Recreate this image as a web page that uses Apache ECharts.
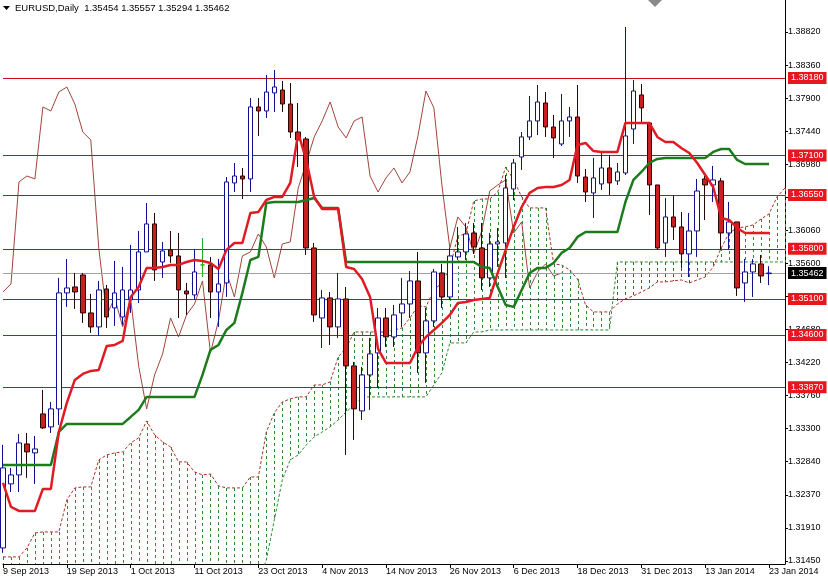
<!DOCTYPE html>
<html><head><meta charset="utf-8">
<script src="https://cdn.jsdelivr.net/npm/echarts@6/dist/echarts.min.js"></script>
<style>html,body{margin:0;padding:0;background:#fff}#c{width:828px;height:580px}</style>
</head><body><div id="c"></div>
<script>
const dates = ['9 Sep 2013','10 Sep 2013','11 Sep 2013','12 Sep 2013','13 Sep 2013','16 Sep 2013','17 Sep 2013','18 Sep 2013','19 Sep 2013','20 Sep 2013','23 Sep 2013','24 Sep 2013','25 Sep 2013','26 Sep 2013','27 Sep 2013','30 Sep 2013','1 Oct 2013','2 Oct 2013','3 Oct 2013','4 Oct 2013','7 Oct 2013','8 Oct 2013','9 Oct 2013','10 Oct 2013','11 Oct 2013','14 Oct 2013','15 Oct 2013','16 Oct 2013','17 Oct 2013','18 Oct 2013','21 Oct 2013','22 Oct 2013','23 Oct 2013','24 Oct 2013','25 Oct 2013','28 Oct 2013','29 Oct 2013','30 Oct 2013','31 Oct 2013','1 Nov 2013','4 Nov 2013','5 Nov 2013','6 Nov 2013','7 Nov 2013','8 Nov 2013','11 Nov 2013','12 Nov 2013','13 Nov 2013','14 Nov 2013','15 Nov 2013','18 Nov 2013','19 Nov 2013','20 Nov 2013','21 Nov 2013','22 Nov 2013','25 Nov 2013','26 Nov 2013','27 Nov 2013','28 Nov 2013','29 Nov 2013','2 Dec 2013','3 Dec 2013','4 Dec 2013','5 Dec 2013','6 Dec 2013','9 Dec 2013','10 Dec 2013','11 Dec 2013','12 Dec 2013','13 Dec 2013','16 Dec 2013','17 Dec 2013','18 Dec 2013','19 Dec 2013','20 Dec 2013','23 Dec 2013','24 Dec 2013','26 Dec 2013','27 Dec 2013','30 Dec 2013','31 Dec 2013','2 Jan 2014','3 Jan 2014','6 Jan 2014','7 Jan 2014','8 Jan 2014','9 Jan 2014','10 Jan 2014','13 Jan 2014','14 Jan 2014','15 Jan 2014','16 Jan 2014','17 Jan 2014','20 Jan 2014','21 Jan 2014','22 Jan 2014','23 Jan 2014','24 Jan 2014','27 Jan 2014'];

const open = [1.31632,1.32524,1.32649,1.33081,1.32956,1.33499,1.33318,1.33569,1.35185,1.35268,
 1.35435,1.34906,1.34711,1.35240,1.34976,1.34850,1.35087,1.35226,1.35756,1.36146,
 1.35616,1.35784,1.35700,1.35212,1.35157,1.35575,1.35575,1.35198,1.35324,1.36717,
 1.36814,1.36773,1.37776,1.37720,1.37971,1.38012,1.37817,1.37427,1.37330,1.35811,
 1.34836,1.35115,1.34711,1.35101,1.34168,1.33541,1.34042,1.34349,1.34836,1.34572,
 1.34906,1.35031,1.35352,1.34349,1.34795,1.35463,1.35129,1.35686,1.35756,1.36020,
 1.35811,1.35394,1.35867,1.35881,1.36633,1.37079,1.37358,1.37581,1.37831,1.37497,
 1.37260,1.37581,1.37636,1.36800,1.36578,1.36703,1.36926,1.36745,1.36856,1.37469,
 1.37943,1.37553,1.36689,1.35881,1.36243,1.36104,1.35728,1.36048,1.36773,1.36689,
 1.36745,1.36020,1.36174,1.35324,1.35477,1.35589,1.35454];

const close = [1.32747,1.32649,1.33095,1.32970,1.33011,1.33304,1.33569,1.35185,1.35254,1.35198,
 1.34906,1.34711,1.35226,1.34850,1.35185,1.35226,1.35226,1.35756,1.36146,1.35505,
 1.35770,1.35700,1.35226,1.35171,1.35477,1.35575,1.35198,1.35310,1.36731,1.36814,
 1.36773,1.37776,1.37720,1.37984,1.38054,1.37817,1.37427,1.37316,1.35811,1.34878,
 1.35115,1.34711,1.35101,1.34168,1.33569,1.34042,1.34335,1.34836,1.34572,1.34878,
 1.35031,1.35352,1.34349,1.34795,1.35477,1.35129,1.35700,1.35756,1.36006,1.35825,
 1.35394,1.35867,1.35895,1.36647,1.36995,1.37358,1.37581,1.37845,1.37497,1.37344,
 1.37581,1.37636,1.36814,1.36591,1.36787,1.36926,1.36717,1.36870,1.37372,1.37998,
 1.37762,1.36689,1.35811,1.36243,1.36104,1.35728,1.36048,1.36605,1.36689,1.36759,
 1.36020,1.36174,1.35254,1.35477,1.35589,1.35421,1.35462];

const low = [1.31563,1.32412,1.32412,1.32608,1.32524,1.33290,1.33234,1.33346,1.34990,1.34962,
 1.34767,1.34627,1.34586,1.34697,1.34725,1.34739,1.34906,1.35045,1.35756,1.35352,
 1.35394,1.35602,1.34836,1.34878,1.35087,1.35407,1.34836,1.34711,1.35129,1.36591,
 1.36494,1.36591,1.37372,1.37622,1.37706,1.37706,1.37344,1.36940,1.35714,1.34781,
 1.34418,1.34460,1.34558,1.32928,1.33137,1.33415,1.33555,1.33861,1.34432,1.34432,
 1.34711,1.34836,1.34070,1.33931,1.34711,1.34976,1.35087,1.35644,1.35644,1.35728,
 1.35226,1.35268,1.35547,1.35394,1.36480,1.36898,1.37316,1.37385,1.37358,1.37065,
 1.37232,1.37358,1.36717,1.36452,1.36229,1.36619,1.36550,1.36689,1.36828,1.37260,
 1.37567,1.36271,1.35784,1.35686,1.35923,1.35533,1.35407,1.35686,1.36201,1.36452,
 1.35784,1.35784,1.35143,1.35059,1.35129,1.35324,1.35294];

const high = [1.33067,1.32747,1.33220,1.33234,1.33193,1.33833,1.33666,1.35394,1.35658,1.35463,
 1.35463,1.35171,1.35352,1.35296,1.35630,1.35547,1.35853,1.36048,1.36438,1.36299,
 1.35895,1.36048,1.36020,1.35324,1.35797,1.35951,1.35686,1.35658,1.36800,1.36995,
 1.36926,1.37901,1.37901,1.38221,1.38291,1.38138,1.38110,1.37831,1.37358,1.35881,
 1.35226,1.35198,1.35463,1.35268,1.34223,1.34154,1.34558,1.34976,1.34976,1.35017,
 1.35394,1.35491,1.35756,1.34976,1.35519,1.35589,1.35811,1.36104,1.36160,1.36160,
 1.36160,1.36020,1.36090,1.36828,1.37051,1.37427,1.37929,1.38082,1.37984,1.37664,
 1.37957,1.37776,1.38082,1.36912,1.37065,1.37135,1.37107,1.36995,1.38890,1.38152,
 1.38096,1.37567,1.36689,1.36508,1.36550,1.36313,1.36299,1.36773,1.36814,1.36954,
 1.36787,1.36452,1.36174,1.35658,1.35658,1.35714,1.35557];

const tenkan = [1.32538,1.32203,1.32148,1.32148,1.32148,1.32454,1.32454,1.33248,1.33652,1.33973,
 1.34056,1.34098,1.34112,1.34446,1.34460,1.34516,1.35129,1.35268,1.35533,1.35533,
 1.35547,1.35575,1.35575,1.35616,1.35644,1.35630,1.35602,1.35519,1.35784,1.35881,
 1.35881,1.36299,1.36313,1.36480,1.36522,1.36522,1.36717,1.37413,1.37037,1.36522,
 1.36355,1.36355,1.36355,1.35547,1.35519,1.35380,1.35129,1.34404,1.34209,1.34209,
 1.34209,1.34209,1.34432,1.34572,1.34669,1.34767,1.34878,1.35045,1.35059,1.35087,
 1.35101,1.35115,1.35463,1.35784,1.36104,1.36382,1.36578,1.36647,1.36661,1.36661,
 1.36689,1.36759,1.37246,1.37274,1.37162,1.37149,1.37149,1.37149,1.37553,1.37553,
 1.37553,1.37553,1.37358,1.37288,1.37288,1.37204,1.37135,1.36995,1.36828,1.36661,
 1.36229,1.36201,1.36090,1.36020,1.36020,1.36020,1.36020];

const kijun = [1.32788,1.32788,1.32788,1.32788,1.32788,1.32788,1.32788,1.33248,1.33360,1.33360,
 1.33360,1.33360,1.33360,1.33360,1.33360,1.33360,1.33457,1.33555,1.33736,1.33736,
 1.33736,1.33736,1.33736,1.33736,1.33736,1.34042,1.34391,1.34460,1.34669,1.34767,
 1.35185,1.35644,1.35686,1.36438,1.36452,1.36452,1.36452,1.36452,1.36480,1.36508,
 1.36369,1.36369,1.36369,1.35616,1.35616,1.35616,1.35616,1.35616,1.35616,1.35616,
 1.35616,1.35616,1.35616,1.35616,1.35616,1.35616,1.35616,1.35616,1.35616,1.35616,
 1.35547,1.35533,1.35268,1.35017,1.34990,1.35226,1.35463,1.35533,1.35533,1.35602,
 1.35742,1.35811,1.35965,1.36034,1.36034,1.36034,1.36034,1.36034,1.36452,1.36759,
 1.36870,1.36995,1.37051,1.37065,1.37065,1.37065,1.37065,1.37065,1.37065,1.37149,
 1.37190,1.37190,1.37037,1.36981,1.36981,1.36981,1.36981];

const spanA = [1.31507,1.31507,1.31507,1.31632,1.31841,1.31855,1.31855,1.31855,1.32301,1.32468,
 1.32482,1.32482,1.32858,1.32928,1.32956,1.32970,1.33095,1.33165,1.33401,1.33207,
 1.33109,1.33039,1.32830,1.32830,1.32691,1.32649,1.32663,1.32496,1.32468,1.32468,
 1.32468,1.32621,1.32621,1.33248,1.33513,1.33666,1.33708,1.33736,1.33736,1.33903,
 1.33903,1.33945,1.34293,1.34418,1.34641,1.34641,1.34641,1.34641,1.34641,1.34669,
 1.34697,1.34836,1.35003,1.34990,1.35226,1.35324,1.35533,1.35979,1.36006,1.36466,
 1.36494,1.36494,1.36591,1.36940,1.36759,1.36522,1.36369,1.36369,1.36369,1.35589,
 1.35575,1.35505,1.35380,1.35017,1.34920,1.34920,1.34920,1.35031,1.35101,1.35143,
 1.35198,1.35254,1.35338,1.35338,1.35352,1.35366,1.35324,1.35366,1.35407,1.35547,
 1.35811,1.36020,1.36090,1.36104,1.36132,1.36215,1.36285,1.36522,1.36647];

const spanB = [1.30980,1.30980,1.30980,1.30980,1.30980,1.30980,1.30980,1.30980,1.30980,1.30980,
 1.30980,1.30980,1.30980,1.30980,1.30980,1.30980,1.30980,1.30980,1.30980,1.30980,
 1.30980,1.30980,1.30980,1.30980,1.30980,1.30980,1.30980,1.30980,1.30980,1.30980,
 1.30980,1.30980,1.31180,1.31465,1.32022,1.32580,1.32858,1.32928,1.33067,1.33179,
 1.33248,1.33318,1.33415,1.33527,1.33624,1.33736,1.33736,1.33736,1.33736,1.33736,
 1.33736,1.33736,1.33736,1.33736,1.33903,1.34070,1.34488,1.34488,1.34488,1.34641,
 1.34641,1.34669,1.34669,1.34669,1.34669,1.34669,1.34669,1.34669,1.34669,1.34669,
 1.34669,1.34669,1.34669,1.34669,1.34669,1.34669,1.34669,1.35616,1.35616,1.35616,
 1.35616,1.35616,1.35616,1.35616,1.35616,1.35616,1.35616,1.35616,1.35616,1.35616,
 1.35616,1.35616,1.35616,1.35616,1.35616,1.35616,1.35616,1.35616,1.35616];

const levels = [1.38180, 1.37100, 1.36550, 1.35800, 1.35100, 1.34600, 1.33870];
const lastPrice = 1.35462;
const yTicks = [1.31450,1.31910,1.32370,1.32840,1.33300,1.33760,1.34220,1.34680,1.35140,1.35600,1.36060,1.36520,1.36980,1.37440,1.37900,1.38360,1.38820];
const yMin = 1.31408, yMax = 1.39266;
const symbolName = 'EURUSD,Daily';

const FONT = '"Liberation Sans", Arial, sans-serif';
const chart = echarts.init(document.getElementById('c'), null, {renderer: 'canvas'});

const candleData = open.map((o, i) => {
  const item = {value: [o, close[i], low[i], high[i]]};
  if (o === close[i]) item.itemStyle = {color: '#22b022', color0: '#22b022', borderColor: '#22b022', borderColor0: '#22b022'};
  return item;
});
const chikou = close.slice(26);
const cloud = spanA.map((a, i) => [i, a, spanB[i]]);
const n = open.length - 1;
const header = symbolName + '  ' + [open[n], high[n], low[n], close[n]].map(v => v.toFixed(5)).join(' ');

const option = {
  animation: false,
  backgroundColor: '#ffffff',
  grid: {left: 0, right: 43, top: 0, bottom: 16, containLabel: false},
  xAxis: {
    type: 'category', data: dates, boundaryGap: false,
    axisLine: {lineStyle: {color: '#000', width: 1}},
    axisTick: {interval: 7, length: 4, lineStyle: {color: '#000'}},
    axisLabel: {interval: 7, align: 'left', margin: 3, fontSize: 9, color: '#000', fontFamily: FONT},
    splitLine: {show: false}
  },
  yAxis: {
    type: 'value', position: 'right', min: yMin, max: yMax,
    axisLine: {show: true, lineStyle: {color: '#000', width: 1}},
    axisTick: {show: true, length: 3, customValues: yTicks, lineStyle: {color: '#000'}},
    axisLabel: {customValues: yTicks, formatter: v => v.toFixed(5), fontSize: 9, color: '#000', margin: 3, fontFamily: FONT},
    splitLine: {show: false}
  },
  graphic: [
    {type: 'polygon', shape: {points: [[3, 6], [10, 6], [6.5, 10]]}, style: {fill: '#000'}, z: 100},
    {type: 'text', left: 15, top: 3, style: {text: header, font: '9.5px ' + FONT, fill: '#000'}, z: 100},
    {type: 'polygon', shape: {points: [[648, 0], [662, 0], [655, 7]]}, style: {fill: '#8a8a8a'}, z: 100}
  ],
  series: [
    {type: 'custom', name: 'cloud', data: cloud, z: 1, silent: true, encode: {x: 0, y: [1, 2]},
      renderItem: (params, api) => {
        const i = api.value(0), a = api.value(1), b = api.value(2);
        const p1 = api.coord([i, a]), p2 = api.coord([i, b]);
        const cs = params.coordSys;
        const top = Math.max(cs.y, Math.min(p1[1], p2[1]));
        const bot = Math.min(cs.y + cs.height, Math.max(p1[1], p2[1]));
        const x = Math.round(p1[0]);
        const color = a >= b ? '#2e8b2e' : '#a8342c';
        const dashes = [];
        for (let y = Math.round(top); y < bot; y += 6) {
          dashes.push({type: 'rect', shape: {x: x, y: y, width: 1, height: Math.min(3, bot - y)},
            style: {fill: color}});
        }
        return {type: 'group', children: dashes};
      }},
    {type: 'line', name: 'Senkou A', data: spanA, symbol: 'none', z: 2, silent: true,
      lineStyle: {color: '#a8342c', width: 1, type: [3, 2]}},
    {type: 'line', name: 'Senkou B', data: spanB, symbol: 'none', z: 2, silent: true,
      lineStyle: {color: '#2e8b2e', width: 1, type: [3, 2]}},
    {type: 'line', name: 'levels', data: [], z: 3, silent: true,
      markLine: {
        silent: true, symbol: ['none', 'none'], animation: false, precision: 5,
        label: {show: true, position: 'end', formatter: p => Number(p.value).toFixed(5), color: '#fff',
          fontSize: 9, fontFamily: FONT, padding: [2, 3, 1, 3], distance: 3},
        data: levels.map(v => ({yAxis: v, lineStyle: {color: '#c4101c', width: 1, type: 'solid'},
          label: {backgroundColor: '#e8161e'}})).concat([
          {yAxis: lastPrice, lineStyle: {color: '#a0a0a0', width: 1, type: 'solid'}, label: {backgroundColor: '#000'}}])
      }},
    {type: 'line', name: 'Chikou', data: chikou, symbol: 'none', z: 4, silent: true,
      lineStyle: {color: '#a0463c', width: 1}},
    {type: 'candlestick', name: 'EURUSD', data: candleData, barWidth: 5, z: 5, silent: true,
      itemStyle: {color: '#ffffff', color0: '#c8201e', borderColor: '#10108c', borderColor0: '#2a0505', borderWidth: 1}},
    {type: 'line', name: 'Kijun', data: kijun, symbol: 'none', z: 6, silent: true,
      lineStyle: {color: '#1c7c1c', width: 2.5}},
    {type: 'line', name: 'Tenkan', data: tenkan, symbol: 'none', z: 7, silent: true,
      lineStyle: {color: '#e01b24', width: 2.5}}
  ]
};
chart.setOption(option);
</script></body></html>
